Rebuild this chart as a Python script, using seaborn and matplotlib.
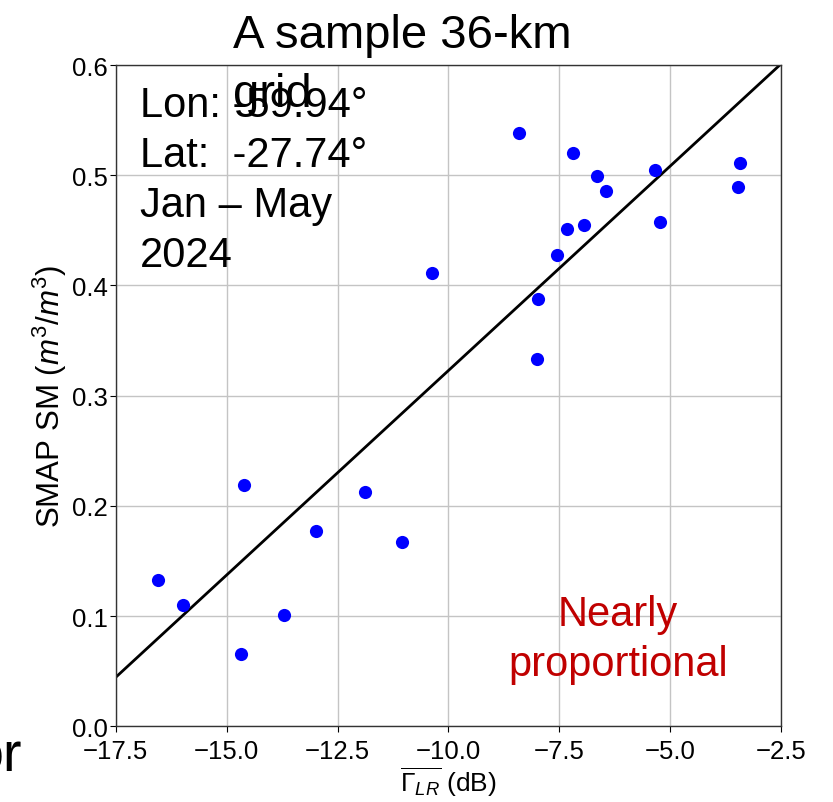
import numpy as np
import pandas as pd
import matplotlib
matplotlib.use("Agg")
import matplotlib.pyplot as plt
import seaborn as sns

# Dữ liệu
gamma_lr = [-16.54, -15.99, -14.61, -14.68, -13.71, -12.98, -11.88, -11.05,
            -10.36, -8.41, -8.01, -7.99, -7.56, -7.32, -7.18, -6.94,
            -6.64, -6.44, -5.35, -5.24, -3.47, -3.43]
smap_sm = [0.133, 0.110, 0.219, 0.066, 0.101, 0.177, 0.213, 0.167,
           0.411, 0.538, 0.333, 0.388, 0.428, 0.451, 0.520, 0.455,
           0.499, 0.486, 0.505, 0.458, 0.489, 0.511]

# đường thẳng gần tỉ lệ
fit_x = [-17.5, -2.5]
fit_y = [0.0445, 0.601]

x_ticks = [-17.5, -15.0, -12.5, -10.0, -7.5, -5.0, -2.5]
y_ticks = [0.0, 0.1, 0.2, 0.3, 0.4, 0.5, 0.6]

df = pd.DataFrame({"gamma": gamma_lr, "sm": smap_sm})
fit_df = pd.DataFrame({"x": fit_x, "y": fit_y})

sns.set_theme(style="whitegrid")
plt.rcParams["font.family"] = ["Liberation Sans", "DejaVu Sans"]
plt.rcParams["mathtext.fontset"] = "custom"
plt.rcParams["mathtext.rm"] = "Liberation Sans"
plt.rcParams["mathtext.it"] = "Liberation Sans:italic"
plt.rcParams["text.color"] = "black"
plt.rcParams["axes.labelcolor"] = "black"

fig = plt.figure(figsize=(8.33, 8.03), dpi=100)
ax = fig.add_axes([0.139, 0.0943, 0.7986, 0.8235])

sns.scatterplot(data=df, x="gamma", y="sm", color="blue", s=90, linewidth=0, ax=ax, zorder=3)
sns.lineplot(data=fit_df, x="x", y="y", color="black", linewidth=2, ax=ax, zorder=2)

ax.set_xlim(-17.5, -2.5)
ax.set_ylim(0.0, 0.6)
ax.set_xticks(x_ticks)
ax.set_yticks(y_ticks)
ax.tick_params(axis="both", labelsize=18.5, length=4, width=0.8, colors="black",
               bottom=True, left=True)
ax.tick_params(axis="x", pad=5)
ax.tick_params(axis="y", pad=2)
ax.grid(True, color="#c4c4c4", linewidth=1)
for sp in ax.spines.values():
    sp.set_color("#333333")
    sp.set_linewidth(1)

ax.set_xlabel(r"$\overline{\Gamma_{LR}}$ (dB)", fontsize=19, labelpad=1)
ax.set_ylabel(r"SMAP SM ($m^3/m^3$)", fontsize=22.5, labelpad=2)

fig.text(0.28, 0.982, "A sample 36-km\ngrid", fontsize=34, ha="left", va="top",
         linespacing=1.42)
ax.text(0.036, 0.9705, "Lon: -59.94°\nLat:  -27.74°\nJan – May\n2024",
        transform=ax.transAxes, fontsize=30, ha="left", va="top", linespacing=1.33)
ax.text(-6.18, 0.0795, "Nearly\nproportional", color="#C00000", fontsize=30,
        ha="center", va="center", multialignment="center", linespacing=1.33)
fig.text(-0.033, 0.039, "or", fontsize=40, ha="left", va="baseline")

fig.savefig("out.png", dpi=100)
